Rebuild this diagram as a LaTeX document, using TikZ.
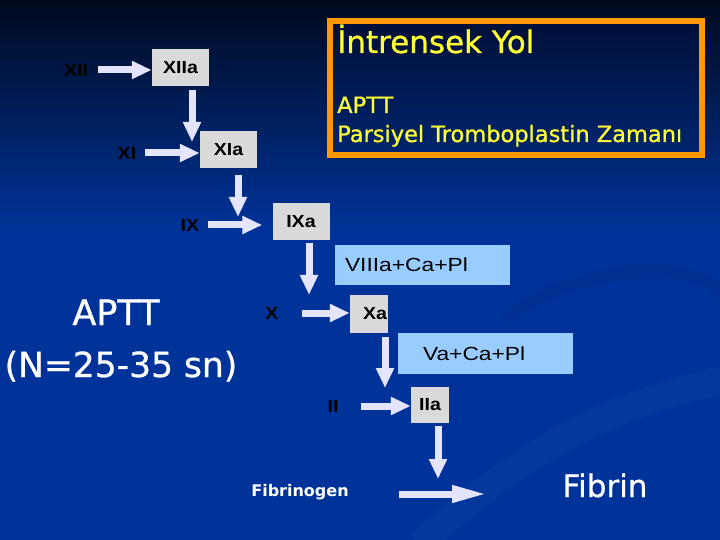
\documentclass[tikz,border=0pt]{standalone}
\usepackage{fontspec}
\setmainfont{DejaVu Sans}
\newfontfamily\comicfont[FakeBold=0.8]{DejaVu Sans}
\newfontfamily\arialfont[FakeStretch=1.2]{Liberation Sans}
\newfontfamily\arialbold[FakeStretch=1.12]{Liberation Sans}
\usetikzlibrary{arrows.meta}
\definecolor{bgblue}{HTML}{003399}
\definecolor{bgmid}{HTML}{001D5A}
\definecolor{bgdark}{HTML}{000A1E}
\definecolor{boxgrey}{HTML}{DADADA}
\definecolor{boxblue}{HTML}{99CCFF}
\definecolor{flowcolor}{HTML}{E4E4FF}
\definecolor{frameline}{HTML}{FF9900}
\definecolor{framedark}{HTML}{000F38}
\definecolor{framelight}{HTML}{00256F}
\definecolor{titletext}{HTML}{FFFF33}

\begin{document}
\begin{tikzpicture}[x=1bp, y=-1bp,
  factor/.style={inner sep=0pt, font=\arialbold\bfseries\fontsize{17.5bp}{19bp}\selectfont},
  actbox/.style={factor, fill=boxgrey, minimum height=37bp},
  widebox/.style={actbox, minimum width=57bp},
  narrowbox/.style={actbox, minimum width=38bp},
  cofbox/.style={fill=boxblue, minimum width=175bp, inner ysep=0pt, align=left,
    font=\arialfont\fontsize{19bp}{21bp}\selectfont},
  titletxt/.style={text=titletext, inner sep=0pt, anchor=base west,
    font=\comicfont\fontsize{22.5bp}{26bp}\selectfont},
  whitetxt/.style={text=white, inner sep=0pt, anchor=base},
  flow/.style={draw=flowcolor, line width=7bp, -{Triangle[length=20bp,width=17bp]}}]

%%=== COORDINATE PLAN (bp, y downward) ================================
%%  Slide 720 x 540; cascade runs diagonally from XII (top left)
%%  down to Fibrin (bottom right); arrow tips j1..j5 sit on the
%%  horizontal arrow of the next step
%%====================================================================

%% --- Background ----------------------------------------------------
\useasboundingbox (0,0) rectangle (720,540);
\fill[bgblue] (0,0) rectangle (720,540);
\shade[top color=bgdark, middle color=bgmid, bottom color=bgblue]
  (0,0) rectangle (720,230);
\draw[white, opacity=0.025, line width=28bp]
  (420,545) .. controls (520,450) and (620,400) .. (725,380);
\draw[black, opacity=0.045, line width=14bp]
  (505,320) .. controls (560,270) and (700,250) .. (725,300);

%% --- Title frame ---------------------------------------------------
\node[draw=frameline, line width=6bp, top color=framedark,
      bottom color=framelight, inner sep=0pt,
      minimum width=372bp, minimum height=134bp]
  (intframe) at (516,88) {};
\node[titletxt, font=\comicfont\fontsize{31bp}{36bp}\selectfont]
  (title) at (337,53) {İntrensek Yol};
\node[titletxt] (aptthead) at (337,113) {APTT};
\node[titletxt] (aptname) at (337,142) {Parsiyel Tromboplastin Zamanı};

%% --- Factors and activated factors ---------------------------------
\node[factor]    (xii)  at (76,70)     {XII};
\node[widebox]   (xiia) at (180.5,68)  {XIIa};
\node[factor]    (xi)   at (127,153)   {XI};
\node[widebox]   (xia)  at (228.5,149.5) {XIa};
\node[factor]    (ix)   at (190,225)   {IX};
\node[widebox]   (ixa)  at (301,221.5) {IXa};
\node[cofbox, text width=155bp, inner xsep=10bp, minimum height=40bp]
  (viiia) at (422.5,265) {VIIIa+Ca+Pl};
\node[factor]    (x)    at (272,313)   {X};
\node[narrowbox, minimum height=38bp, text width=36bp, inner xsep=1bp,
      align=right]
  (xa)   at (369,314)  {Xa};
\node[cofbox, text width=125bp, inner xsep=25bp, minimum height=41bp]
  (vacapl) at (485.5,353.5) {Va+Ca+Pl};
\node[factor]    (ii)   at (333,406)   {II};
\node[narrowbox, minimum height=36bp] (iia) at (430,405) {IIa};

%% --- Side labels ---------------------------------------------------
\node[whitetxt, font=\comicfont\fontsize{35bp}{40bp}\selectfont]
  (aptt) at (116,325) {APTT};
\node[whitetxt, font=\comicfont\fontsize{34.5bp}{40bp}\selectfont]
  (nrange) at (121,377) {(N=25-35 sn)};
\node[whitetxt, font=\bfseries\fontsize{16bp}{18bp}\selectfont]
  (fibrinogen) at (300,496) {Fibrinogen};
\node[whitetxt, font=\comicfont\fontsize{31bp}{36bp}\selectfont]
  (fibrin) at (605,497) {Fibrin};

%% --- Arrow tips on the next step -----------------------------------
\coordinate (j1) at (192,142);
\coordinate (j2) at (238,217);
\coordinate (j3) at (309,295);
\coordinate (j4) at (385,388);
\coordinate (j5) at (438,479);
\coordinate (fibtip) at (487,494);

%% --- Horizontal activation arrows ----------------------------------
\draw[flow, shorten <=10bp] (xii) -- (xii -| xiia.west);
\draw[flow, shorten <=9bp]  (xi)  -- (xi -| xia.west);
\draw[flow, shorten <=9bp, shorten >=10bp] (ix) -- (ix -| ixa.west);
\draw[flow, shorten <=23bp] (x)   -- (x -| xa.west);
\draw[flow, shorten <=22bp] (ii)  -- (ii -| iia.west);
\draw[flow, shorten <=50bp, -{Triangle[length=35bp,width=16bp]}]
  (fibrinogen.east |- fibtip) -- (fibtip);

%% --- Vertical cascade arrows ---------------------------------------
\draw[flow, shorten <=3bp] (xiia.south -| j1) -- (j1);
\draw[flow, shorten <=7bp] (xia.south -| j2)  -- (j2);
\draw[flow, shorten <=3bp] (ixa.south -| j3)  -- (j3);
\draw[flow, shorten <=4bp] (xa.south -| j4)   -- (j4);
\draw[flow, shorten <=3bp] (iia.south -| j5)  -- (j5);

\end{tikzpicture}
\end{document}
